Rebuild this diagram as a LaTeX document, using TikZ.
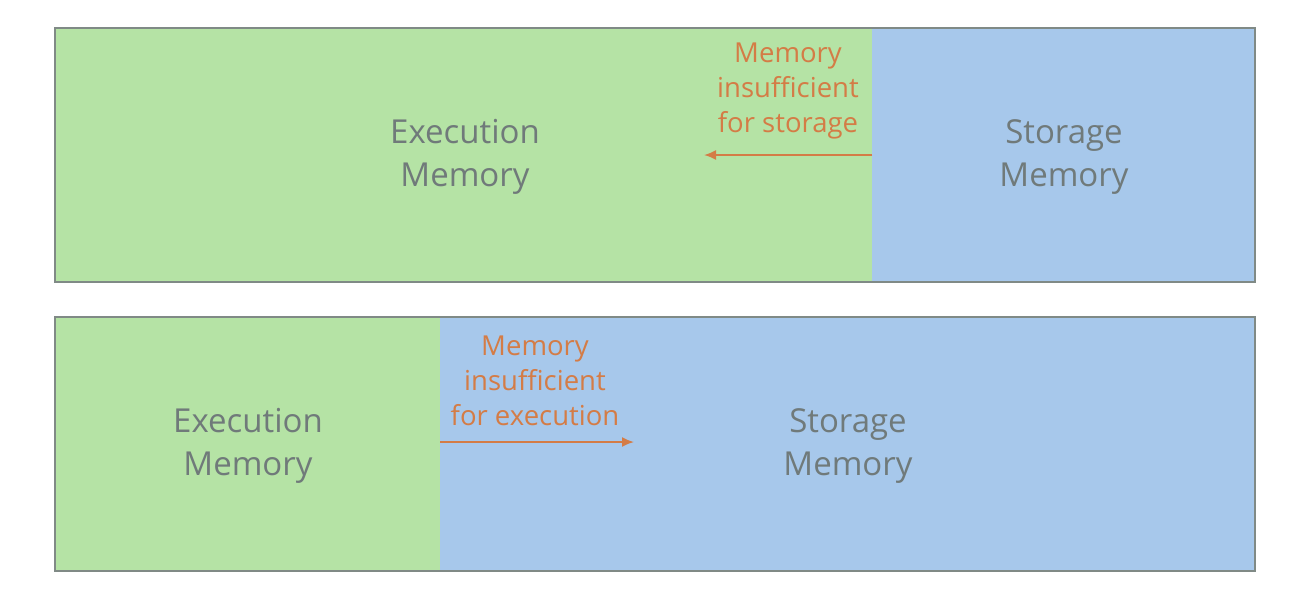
\documentclass[tikz,border=0pt]{standalone}
\usepackage{fontspec}
\setmainfont{Open Sans}
\usetikzlibrary{arrows.meta}
\definecolor{exgreen}{RGB}{181,227,165}
\definecolor{stblue}{RGB}{167,200,235}
\definecolor{lbl}{RGB}{112,122,122}
\definecolor{orng}{RGB}{212,124,70}
\definecolor{frame}{RGB}{128,138,134}
\begin{document}
\begin{tikzpicture}[x=1pt,y=-1pt,
  mainlbl/.style={text=lbl,font=\fontsize{33}{43}\selectfont,align=center},
  notelbl/.style={text=orng,font=\fontsize{27.5}{35}\selectfont,align=center},
  flow/.style={draw=orng,line width=1.8pt,-{Latex[length=12pt,width=10pt]}}]
\useasboundingbox (0,0) rectangle (1306,598);
% top
\fill[exgreen] (55,28) rectangle (872,282);
\fill[stblue] (872,28) rectangle (1255,282);
\draw[frame,line width=1.5pt] (55,28) rectangle (1255,282);
\node[mainlbl] (te) at (465,157) {Execution\\Memory};
\node[mainlbl] (ts) at (1064,157) {Storage\\Memory};
\node[notelbl] (tn) at (788,91) {Memory\\insufficient\\for storage};
\coordinate (ta) at (872,155);
\coordinate (tb) at (704,155);
\draw[flow] (ta) -- (tb);
% bottom
\fill[exgreen] (55,317) rectangle (440,571);
\fill[stblue] (440,317) rectangle (1255,571);
\draw[frame,line width=1.5pt] (55,317) rectangle (1255,571);
\node[mainlbl] (be) at (248,446) {Execution\\Memory};
\node[mainlbl] (bs) at (848,446) {Storage\\Memory};
\node[notelbl] (bn) at (535,381) {Memory\\insufficient\\for execution};
\coordinate (ba) at (440,442);
\coordinate (bb) at (634,442);
\draw[flow] (ba) -- (bb);
\end{tikzpicture}
\end{document}
